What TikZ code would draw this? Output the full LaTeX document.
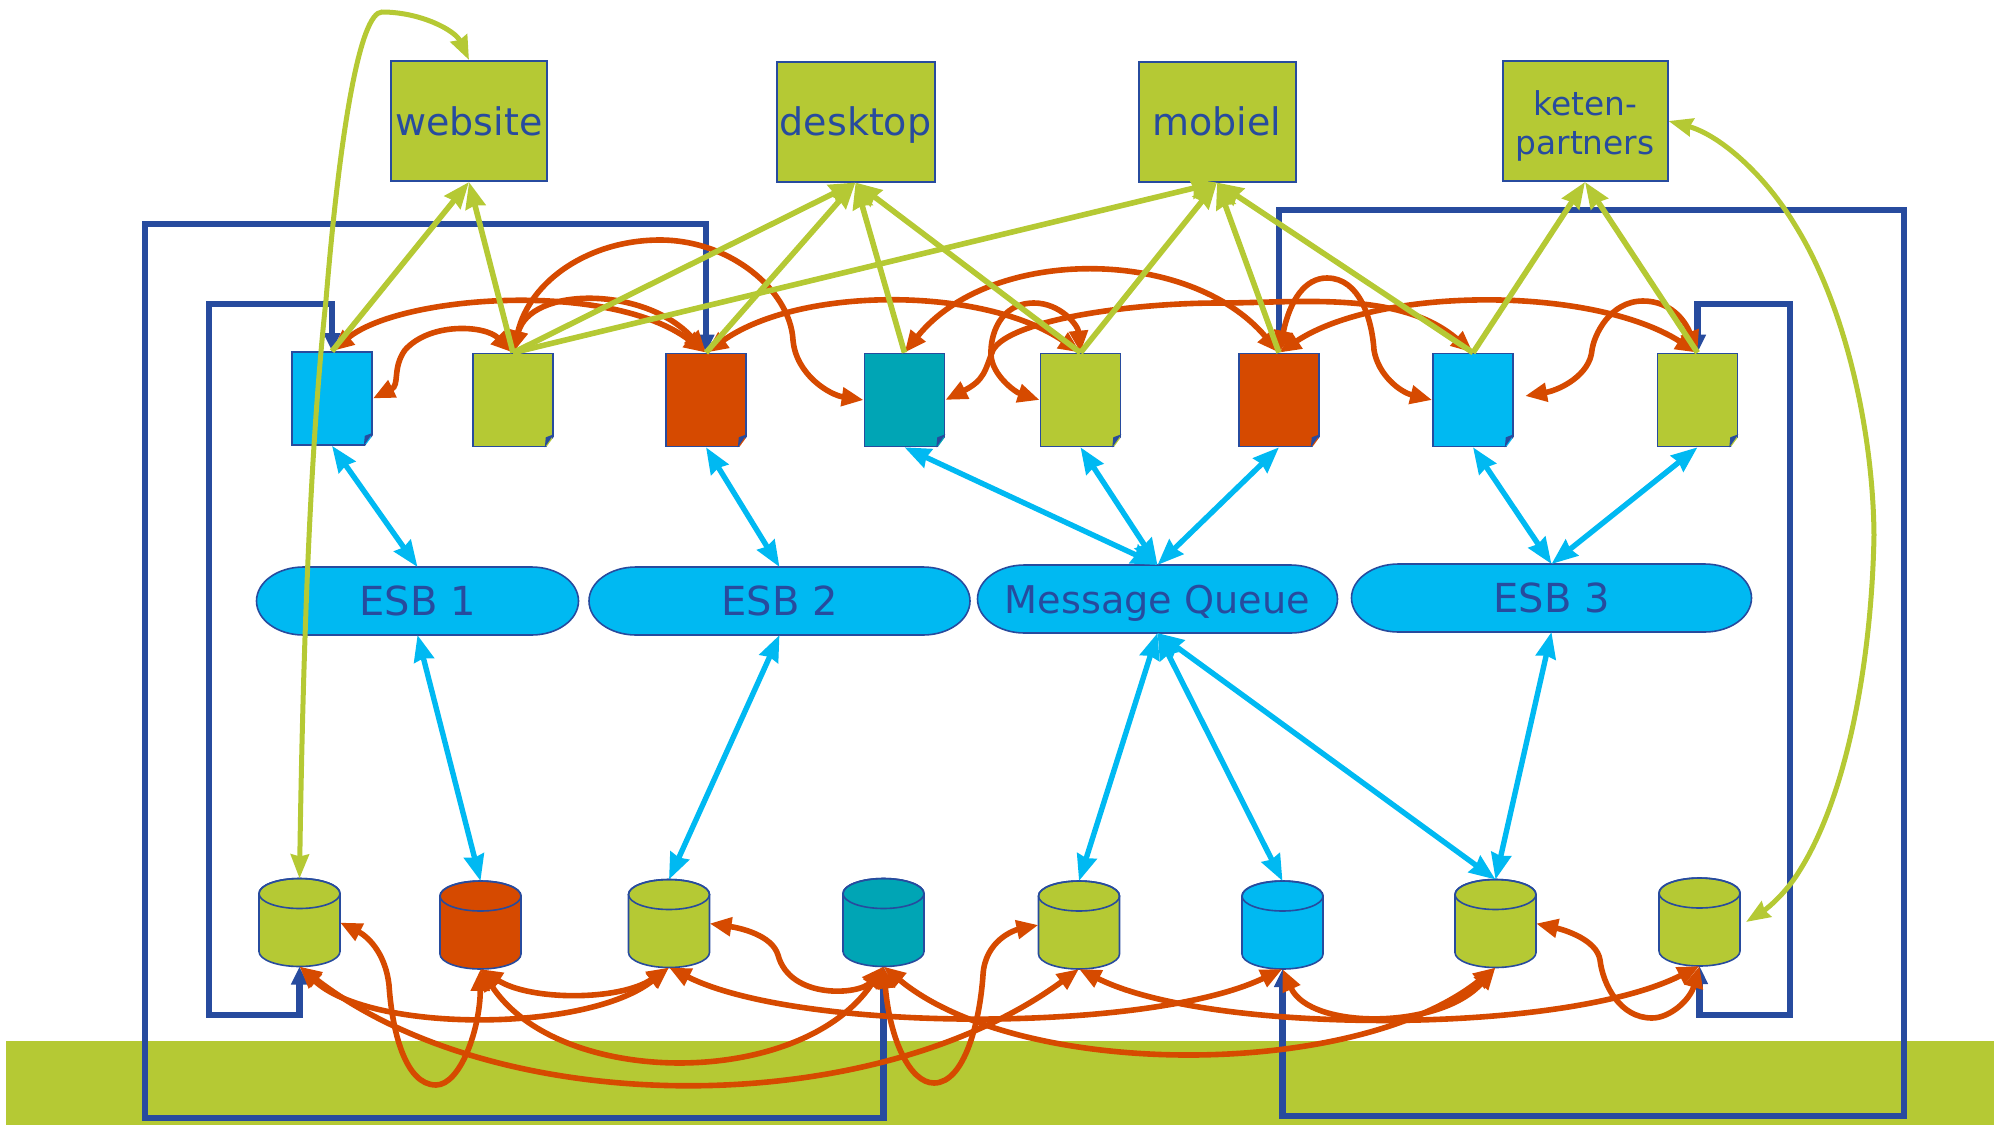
\documentclass[tikz,border=0pt]{standalone}
\usepackage{fontspec}
\setmainfont{DejaVu Sans}
\usetikzlibrary{arrows.meta, calc}

\definecolor{leaf}{HTML}{B5C934}
\definecolor{sky}{HTML}{00B9F2}
\definecolor{rust}{HTML}{D64A00}
\definecolor{teal}{HTML}{00A5B5}
\definecolor{navy}{HTML}{274B9E}

\tikzset{
    appbox/.style={rectangle, draw=navy, line width=1pt, fill=leaf, text=navy, inner sep=0pt, minimum height=60pt, font=\fontsize{19}{23}\selectfont, align=center, text depth=0pt},
    docbox/.style={rectangle, draw=navy, line width=0.8pt, fill=#1, inner sep=0pt, minimum width=40pt, minimum height=46.5pt},
    busbox/.style={rectangle, text=navy, inner sep=0pt, outer sep=0pt, minimum height=34pt, font=\fontsize{20}{24}\selectfont, text depth=0pt},
    dbcyl/.style={rectangle, inner sep=0pt, outer sep=0pt, minimum width=40.5pt, minimum height=44pt},
    outline/.style={draw=navy, line width=0.8pt},
    frameline/.style={navy, line width=3.2pt, {Triangle[length=9pt,width=8pt]}-{Triangle[length=9pt,width=8pt]}},
    upline/.style={leaf, line width=2.8pt, -{Stealth[inset=1pt,length=13pt,width=10pt]}},
    longline/.style={leaf, line width=2.5pt, {Stealth[inset=1pt,length=12pt,width=9pt]}-{Stealth[inset=1pt,length=12pt,width=9pt]}},
    busline/.style={sky, line width=2.7pt, {Stealth[inset=1pt,length=13pt,width=10pt]}-{Stealth[inset=1pt,length=13pt,width=10pt]}},
    flowline/.style={rust, line width=2.8pt, {Triangle[length=11pt,width=9pt]}-{Triangle[length=11pt,width=9pt]}}
}

% name, x, y, width, text
\newcommand{\busnode}[5]{
    \filldraw[outline, fill=sky] (#2,#3) ++({-#4/2},0)
        arc[start angle=180, end angle=90, x radius=23.5pt, y radius=17pt] -- ++({#4-94},0)
        arc[start angle=90, end angle=-90, x radius=23.5pt, y radius=17pt] -- ++({94-#4},0)
        arc[start angle=270, end angle=180, x radius=23.5pt, y radius=17pt] -- cycle;
    \node[busbox, minimum width={#4*0.5pt}] (#1) at (#2,#3) {#5};
}

\begin{document}
\begin{tikzpicture}[x=0.5pt, y=-0.5pt]
    \useasboundingbox (0,0) rectangle (1999,1125);

    % Ground band
    \fill[leaf] (6,1041) rectangle (1994,1125);

    % Corners of the four frames
    \coordinate (outerLeftTop) at (145,224);
    \coordinate (outerLeftBottom) at (145,1118);
    \coordinate (innerLeftTop) at (209,304);
    \coordinate (innerLeftBottom) at (209,1015);
    \coordinate (outerRightTop) at (1904,210);
    \coordinate (outerRightBottom) at (1904,1116);
    \coordinate (innerRightTop) at (1790,304);
    \coordinate (innerRightBottom) at (1790,1015);

    % Applications
    \node[appbox, minimum width=78pt] (boxWebsite) at (469,121) {website};
    \node[appbox, minimum width=79pt] (boxDesktop) at (855.5,121.5) {desktop};
    \node[appbox, minimum width=78.5pt] (boxMobiel) at (1217,121.5) {mobiel};
    \node[appbox, minimum width=82.5pt, font=\fontsize{16.4}{19.5}\selectfont, text height=33.5pt] (boxKeten) at (1585,121) {keten-\\partners};

    % Services
    \node[docbox=sky] (docA) at (332,398.5) {};
    \node[docbox=leaf] (docB) at (513,400) {};
    \node[docbox=rust] (docC) at (706,400) {};
    \node[docbox=teal] (docD) at (904.5,400) {};
    \node[docbox=leaf] (docE) at (1080.5,400) {};
    \node[docbox=rust] (docF) at (1279,400) {};
    \node[docbox=sky] (docG) at (1473,400) {};
    \node[docbox=leaf] (docH) at (1697.5,400) {};

    % Buses
    \busnode{esbOne}{417.5}{601}{322}{ESB 1}
    \busnode{esbTwo}{779.5}{601}{381}{ESB 2}
    \busnode{queue}{1157.5}{599}{360}{\fontsize{19.1}{23}\selectfont Message Queue}
    \busnode{esbThree}{1551.5}{598}{400}{ESB 3}

    % Databases
    \node[dbcyl] (cylA) at (299.5,922.5) {};
    \node[dbcyl] (cylB) at (480.5,925) {};
    \node[dbcyl] (cylC) at (669,923.5) {};
    \node[dbcyl] (cylD) at (883.5,922.5) {};
    \node[dbcyl] (cylE) at (1079,925) {};
    \node[dbcyl] (cylF) at (1282.5,925) {};
    \node[dbcyl] (cylG) at (1495.5,923.5) {};
    \node[dbcyl] (cylH) at (1699.5,922) {};
    \foreach \cyl/\tint in {cylA/leaf,cylB/rust,cylC/leaf,cylD/teal,cylE/leaf,cylF/sky,cylG/leaf,cylH/leaf} {
        \filldraw[outline, fill=\tint] ($(\cyl.north west)+(0,15)$)
            arc[start angle=180, end angle=0, x radius=20.25pt, y radius=7.5pt]
            -- ($(\cyl.south east)+(0,-15)$)
            arc[start angle=0, end angle=-180, x radius=20.25pt, y radius=7.5pt] -- cycle;
        \draw[outline] ($(\cyl.north)+(0,15)$) ellipse [x radius=20.25pt, y radius=7.5pt];
    }

    % Free ends next to a node
    \coordinate (besideDocG) at (1525,396);
    \coordinate (besideCylH) at (1746,922);

    % Folded corners
    \foreach \doc in {docA,docB,docC,docD,docE,docF,docG,docH} {
        \fill[white] ($(\doc.south east)+(2,2)$) -- ($(\doc.south east)+(2,-13)$) -- ($(\doc.south east)+(-9,2)$) -- cycle;
        \fill[navy] ($(\doc.south east)+(0,-13)$) -- ($(\doc.south east)+(-9,0)$) -- ($(\doc.south east)+(-8,-10)$) -- cycle;
    }

    % Frames
    \draw[frameline] (docC.north) |- (outerLeftTop) -- (outerLeftBottom) -| (cylD.south);
    \draw[frameline] (docA.north) |- (innerLeftTop) -- (innerLeftBottom) -| (cylA.south);
    \draw[frameline] (docF.north) |- (outerRightTop) -- (outerRightBottom) -| (cylF.south);
    \draw[frameline] (docH.north) |- (innerRightTop) -- (innerRightBottom) -| (cylH.south);

    % Flows between services
    \draw[flowline] (docB.north) .. controls (485,325) and (430,322) .. (405,350) .. controls (392,368) and (400,385) .. (docA.east);
    \draw[flowline] (docA.north) .. controls (400,295) and (610,280) .. (docC.north);
    \draw[flowline] (docB.north) .. controls (530,286) and (645,286) .. (docC.north);
    \draw[flowline] (docB.north) .. controls (530,280) and (590,240) .. (660,240) .. controls (730,240) and (790,290) .. (793,340) .. controls (796,375) and (830,395) .. (docD.west);
    \draw[flowline] (docC.north) .. controls (800,286) and (983,286) .. (docE.north);
    \draw[flowline] (docG.north) .. controls (1400,290) and (1300,303) .. (1219,303) .. controls (1130,303) and (1010,320) .. (993,350) .. controls (985,370) and (985,380) .. (docD.east);
    \draw[flowline] (docE.north) .. controls (1078,325) and (1060,303) .. (1034,303) .. controls (1000,303) and (990,335) .. (991,355) .. controls (992,375) and (1015,392) .. (docE.west);
    \draw[flowline] (docD.north) .. controls (990,246) and (1189,246) .. (docF.north);
    \draw[flowline] (docF.north) .. controls (1290,300) and (1305,278) .. (1327,278) .. controls (1360,278) and (1372,320) .. (1374,350) .. controls (1378,375) and (1400,392) .. (docG.west);
    \draw[flowline] (docF.north) .. controls (1380,286) and (1593,286) .. (docH.north);
    \draw[flowline] (docH.north) .. controls (1685,320) and (1670,301) .. (1643,301) .. controls (1610,301) and (1594,335) .. (1592,350) .. controls (1590,375) and (1560,390) .. (besideDocG);

    % Flows between databases
    \draw[flowline] (cylB.south) .. controls (530,1001) and (620,1001) .. (cylC.south);
    \draw[flowline] (cylA.south) .. controls (370,1033) and (587,1033) .. (cylC.south);
    \draw[flowline] (cylA.south) .. controls (500,1121) and (872,1121) .. (cylE.south);
    \draw[flowline] (cylB.south) .. controls (480,1030) and (460,1085) .. (436,1085) .. controls (405,1085) and (392,1030) .. (389,985) .. controls (385,950) and (365,935) .. (cylA.east);
    \draw[flowline] (cylB.south) .. controls (560,1089) and (801,1089) .. (cylD.south);
    \draw[flowline] (cylC.south) .. controls (800,1033) and (1150,1033) .. (cylF.south);
    \draw[flowline] (cylD.south) .. controls (860,995) and (790,1000) .. (778,955) .. controls (772,935) and (740,928) .. (cylC.east);
    \draw[flowline] (cylD.south) .. controls (890,1040) and (910,1083) .. (934,1083) .. controls (965,1083) and (980,1020) .. (983,975) .. controls (985,940) and (1015,930) .. (cylE.west);
    \draw[flowline] (cylD.south) .. controls (1020,1080) and (1355,1080) .. (cylG.south);
    \draw[flowline] (cylE.south) .. controls (1210,1035) and (1563,1035) .. (cylH.south);
    \draw[flowline] (cylF.south) .. controls (1310,1030) and (1440,1030) .. (cylG.south);
    \draw[flowline] (cylH.south) .. controls (1690,1000) and (1670,1018) .. (1652,1018) .. controls (1620,1018) and (1603,985) .. (1600,960) .. controls (1597,940) and (1565,930) .. (cylG.east);

    % Services to applications
    \draw[upline] (docA.north) -- (boxWebsite.south);
    \draw[upline] (docB.north) -- (boxWebsite.south);
    \draw[upline] (docB.north) -- (boxDesktop.south);
    \draw[upline] (docC.north) -- (boxDesktop.south);
    \draw[upline] (docD.north) -- (boxDesktop.south);
    \draw[upline] (docE.north) -- (boxDesktop.south);
    \draw[upline] (docB.north) -- (boxMobiel.south);
    \draw[upline] (docE.north) -- (boxMobiel.south);
    \draw[upline] (docF.north) -- (boxMobiel.south);
    \draw[upline] (docG.north) -- (boxMobiel.south);
    \draw[upline] (docG.north) -- (boxKeten.south);
    \draw[upline] (docH.north) -- (boxKeten.south);

    % Long links along the sides
    \draw[longline] (cylA.north) .. controls (303,650) and (310,450) .. (326,300) .. controls (340,130) and (360,12) .. (382,12) .. controls (420,12) and (455,30) .. (boxWebsite.north);
    \draw[longline] (boxKeten.east) .. controls (1720,135) and (1765,175) .. (1795,225) .. controls (1845,305) and (1873,430) .. (1874,535) .. controls (1872,650) and (1850,790) .. (1800,870) .. controls (1785,895) and (1765,910) .. (besideCylH);

    % Services and databases to the buses
    \draw[busline] (docA.south) -- (esbOne.north);
    \draw[busline] (docC.south) -- (esbTwo.north);
    \draw[busline] (docD.south) -- (queue.north);
    \draw[busline] (docE.south) -- (queue.north);
    \draw[busline] (docF.south) -- (queue.north);
    \draw[busline] (docG.south) -- (esbThree.north);
    \draw[busline] (docH.south) -- (esbThree.north);
    \draw[busline] (esbOne.south) -- (cylB.north);
    \draw[busline] (esbTwo.south) -- (cylC.north);
    \draw[busline] (queue.south) -- (cylE.north);
    \draw[busline] (queue.south) -- (cylF.north);
    \draw[busline] (queue.south) -- (cylG.north);
    \draw[busline] (esbThree.south) -- (cylG.north);
\end{tikzpicture}
\end{document}
